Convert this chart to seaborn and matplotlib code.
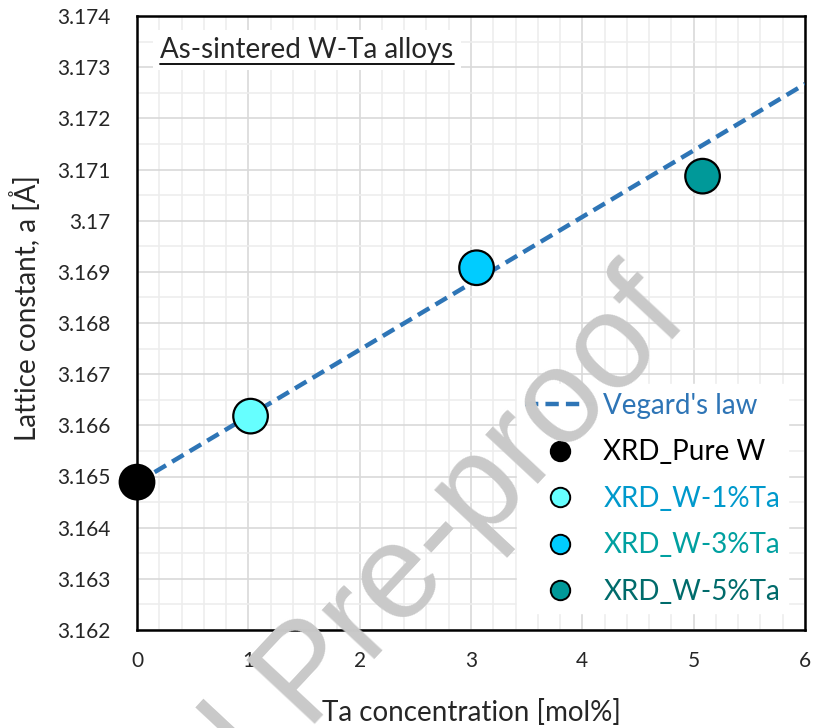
import matplotlib
matplotlib.use("Agg")
import matplotlib.pyplot as plt
from matplotlib.lines import Line2D
from matplotlib.ticker import MultipleLocator, FuncFormatter
import seaborn as sns
import pandas as pd

# data
samples = ['XRD_Pure W', 'XRD_W-1%Ta', 'XRD_W-3%Ta', 'XRD_W-5%Ta']
ta_conc = [0.0, 1.02, 3.05, 5.08]
lattice = [3.16489, 3.16618, 3.16908, 3.17087]
marker_colors = ['#000000', '#66FFFF', '#00CCFF', '#009999']
label_colors = ['#000000', '#0099CC', '#00A0A0', '#006B6B']

vegard_x = [0.0, 6.0]
vegard_y = [3.16488, 3.17267]

sns.set_style('white')
plt.rcParams['font.family'] = ['Lato', 'DejaVu Sans']

df = pd.DataFrame({'sample': samples, 'x': ta_conc, 'a': lattice})
vdf = pd.DataFrame({'x': vegard_x, 'a': vegard_y})

fig = plt.figure(figsize=(8.14, 7.28), dpi=100)
ax = fig.add_axes([137 / 814, 1 - 630 / 728, (805 - 137) / 814, (630 - 16) / 728])

sns.lineplot(data=vdf, x='x', y='a', ax=ax, color='#2E75B6', lw=3.2,
             linestyle=(0, (3, 1.6)), zorder=3, legend=False)
sns.scatterplot(data=df, x='x', y='a', hue='sample', palette=marker_colors,
                s=620, edgecolor='black', linewidth=1.6, ax=ax, zorder=4,
                legend=False, clip_on=False)

ax.set_xlim(0, 6)
ax.set_ylim(3.162, 3.174)
ax.xaxis.set_major_locator(MultipleLocator(1))
ax.xaxis.set_minor_locator(MultipleLocator(0.2))
ax.yaxis.set_major_locator(MultipleLocator(0.001))
ax.yaxis.set_minor_locator(MultipleLocator(0.0005))
ax.yaxis.set_major_formatter(FuncFormatter(lambda v, p: f'{v:.3f}'.rstrip('0')))
ax.grid(True, which='major', color='#D9D9D9', lw=1.2, zorder=0)
ax.grid(True, which='minor', color='#EDEDED', lw=1.2, zorder=0)
ax.set_axisbelow(True)
ax.tick_params(which='both', direction='in', color='black', width=1.5, labelsize=15)
ax.tick_params(which='major', length=8)
ax.tick_params(which='minor', length=5)
ax.tick_params(axis='y', pad=19)
ax.tick_params(axis='x', pad=15)
for s in ax.spines.values():
    s.set_color('black')
    s.set_linewidth(1.8)

ax.set_xlabel('Ta concentration [mol%]', fontsize=20, labelpad=20)
ax.set_ylabel('Lattice constant, a [Å]', fontsize=20)
ax.yaxis.set_label_coords(-0.143, 0.524)

handles = [Line2D([], [], color='#2E75B6', lw=3.2, linestyle=(0, (3, 1.6)))]
for c in marker_colors:
    handles.append(Line2D([], [], marker='o', ls='none', markersize=14,
                          markerfacecolor=c, markeredgecolor='black', markeredgewidth=1.4))
leg = ax.legend(handles, ["Vegard's law"] + samples, loc='lower right',
                fontsize=20, frameon=True, framealpha=1, edgecolor='white',
                facecolor='white', handlelength=2.5, handletextpad=0.3,
                labelspacing=0.74, borderaxespad=0.6, borderpad=0.3, fancybox=False,
                labelcolor=['#2E75B6'] + label_colors)
leg.set_zorder(5)

title = ax.text(0.035, 0.945, 'As-sintered W-Ta alloys', transform=ax.transAxes,
                fontsize=20, ha='left', va='center', zorder=6,
                bbox=dict(facecolor='white', edgecolor='none', pad=5))

# underline for the in-plot title
fig.canvas.draw()
bb = title.get_window_extent()
ul_y = (bb.y0 - 1) / fig.bbox.height
fig.add_artist(Line2D([bb.x0 / fig.bbox.width, bb.x1 / fig.bbox.width], [ul_y, ul_y],
                      color='black', lw=1.3, zorder=7))

# watermark
fig.text(0.849, 0.56, 'Journal Pre-proof', rotation=47, rotation_mode='anchor',
         ha='right', va='baseline', fontsize=97, color='#C9C9C9', zorder=10,
         family=['Liberation Sans', 'DejaVu Sans'])

fig.savefig('out.png', dpi=100)
